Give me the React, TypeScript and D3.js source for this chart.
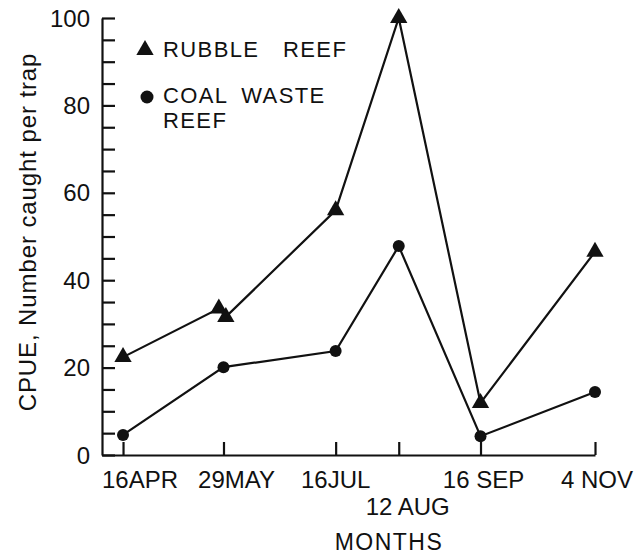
import { useEffect, useRef } from 'react';
import * as d3 from 'd3';

const sampleDates = ['1979-04-16', '1979-05-29', '1979-07-16', '1979-08-12', '1979-09-16', '1979-11-04'];
const dateLabels = ['16APR', '29MAY', '16JUL', '12 AUG', '16 SEP', '4 NOV'];

// rubble reef has two samples close together around 29 May
const rubbleDates = ['1979-04-16', '1979-05-27', '1979-05-30', '1979-07-16', '1979-08-12', '1979-09-16', '1979-11-04'];
const rubbleValues = [22.4, 33.5, 31.6, 56, 100, 11.9, 46.5];

const coalDates = ['1979-04-16', '1979-05-29', '1979-07-16', '1979-08-12', '1979-09-16', '1979-11-04'];
const coalValues = [4.6, 20.1, 23.8, 47.8, 4.3, 14.4];

const yTicks = [0, 20, 40, 60, 80, 100];

const App = () => {
    const svgRef = useRef<SVGSVGElement>(null);

    useEffect(() => {
        const svg = d3.select(svgRef.current);
        svg.selectAll('*').remove();
        const font = '"Liberation Sans", Arial, sans-serif';
        const ink = '#111';
        const parse = d3.timeParse('%Y-%m-%d');

        const x = d3.scaleTime()
            .domain([parse('1979-04-07')!, parse('1979-11-04')!])
            .range([102, 595]);
        const y = d3.scaleLinear().domain([0, 100]).range([455, 18]);

        // y axis: inward ticks every 5, labels every 20
        const yAxis = svg.append('g')
            .attr('transform', 'translate(102,0)')
            .call(d3.axisLeft(y)
                .tickValues(d3.range(0, 101, 5))
                .tickSizeInner(-13)
                .tickSizeOuter(0)
                .tickFormat(() => ''));
        yAxis.select('.domain').attr('stroke', ink).attr('stroke-width', 2.2);
        yAxis.selectAll('.tick line').attr('stroke', ink).attr('stroke-width', 2.2);

        svg.append('g')
            .selectAll('text')
            .data(yTicks)
            .join('text')
            .attr('x', 90)
            .attr('y', d => y(d))
            .attr('dy', '0.36em')
            .attr('text-anchor', 'end')
            .style('font-family', font)
            .style('font-size', '24px')
            .attr('fill', ink)
            .text(d => d);

        // x axis: upward ticks at sample dates
        const xAxis = svg.append('g')
            .attr('transform', `translate(0,${y(0)})`)
            .call(d3.axisBottom(x)
                .tickValues(sampleDates.map(d => parse(d)!))
                .tickSizeInner(-13)
                .tickSizeOuter(0)
                .tickFormat(() => ''));
        xAxis.select('.domain').attr('stroke', ink).attr('stroke-width', 2.2);
        xAxis.selectAll('.tick line').attr('stroke', ink).attr('stroke-width', 2.2);

        const shift = [17, 13, 0, 9, 3, 2];
        svg.append('g')
            .selectAll('text')
            .data(dateLabels)
            .join('text')
            .attr('x', (d, i) => x(parse(sampleDates[i])!) + shift[i])
            .attr('y', (d, i) => (i === 3 ? 515 : 488))
            .attr('text-anchor', 'middle')
            .style('font-family', font)
            .style('font-size', '24px')
            .attr('fill', ink)
            .text(d => d);

        svg.append('text')
            .attr('x', 389).attr('y', 550)
            .attr('text-anchor', 'middle')
            .style('font-family', font)
            .style('font-size', '23px')
            .style('letter-spacing', '1.5px')
            .attr('fill', ink)
            .text('MONTHS');

        svg.append('text')
            .attr('transform', 'translate(36,232) rotate(-90)')
            .attr('text-anchor', 'middle')
            .style('font-family', font)
            .style('font-size', '24px')
            .style('letter-spacing', '0.9px')
            .attr('fill', ink)
            .text('CPUE, Number caught per trap');

        const line = d3.line<[Date, number]>()
            .x(d => x(d[0]))
            .y(d => y(d[1]));

        const rubble: [Date, number][] = rubbleDates.map((d, i) => [parse(d)!, rubbleValues[i]]);
        const coal: [Date, number][] = coalDates.map((d, i) => [parse(d)!, coalValues[i]]);

        [rubble, coal].forEach(s => {
            svg.append('path')
                .datum(s)
                .attr('d', line)
                .attr('fill', 'none')
                .attr('stroke', ink)
                .attr('stroke-width', 2.2);
        });

        const tri = d3.symbol().type(d3.symbolTriangle).size(130);
        svg.append('g')
            .selectAll('path')
            .data(rubble)
            .join('path')
            .attr('transform', d => `translate(${x(d[0])},${y(d[1])})`)
            .attr('d', tri)
            .attr('fill', ink);

        svg.append('g')
            .selectAll('circle')
            .data(coal)
            .join('circle')
            .attr('cx', d => x(d[0]))
            .attr('cy', d => y(d[1]))
            .attr('r', 6)
            .attr('fill', ink);

        // legend
        const legend = svg.append('g');
        legend.append('path')
            .attr('transform', 'translate(145,50)')
            .attr('d', tri)
            .attr('fill', ink);
        legend.append('circle')
            .attr('cx', 147).attr('cy', 97).attr('r', 6.5)
            .attr('fill', ink);
        const legendText = [['RUBBLE REEF', 57, 16], ['COAL WASTE', 103, 6], ['REEF', 128, 6]] as const;
        legend.selectAll('text')
            .data(legendText)
            .join('text')
            .attr('x', 163)
            .attr('y', d => d[1])
            .style('font-family', font)
            .style('font-size', '22px')
            .style('letter-spacing', '1.4px')
            .style('word-spacing', d => `${d[2]}px`)
            .attr('fill', ink)
            .text(d => d[0]);
    }, []);

    return (
        <svg
            ref={svgRef}
            width="639"
            height="556"
            style={{ position: 'absolute', left: 0, top: 0, background: '#fff' }}
        ></svg>
    );
};

export default App;
